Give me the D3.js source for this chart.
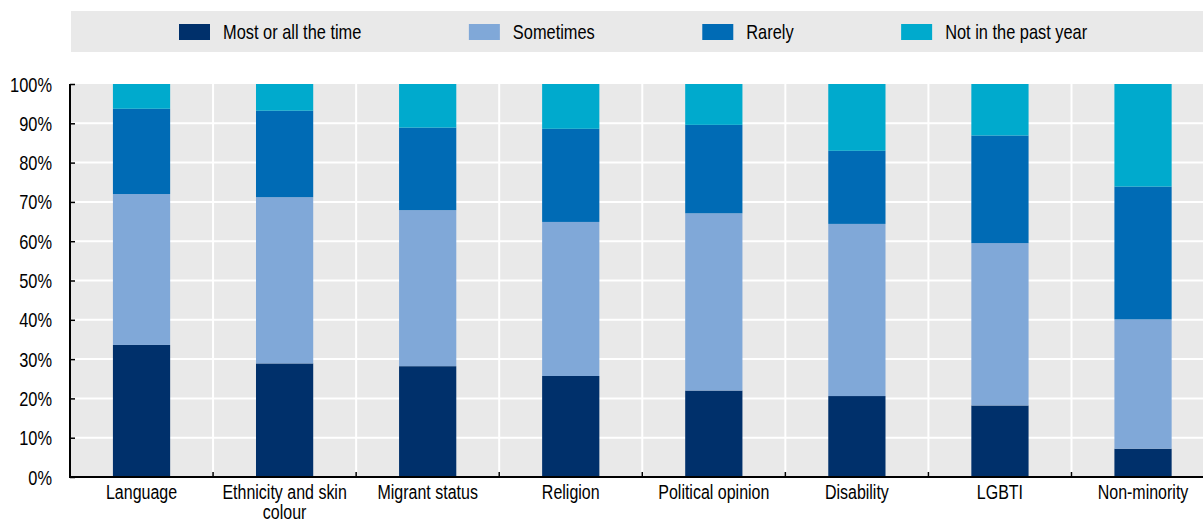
<!DOCTYPE html>
<html>
<head>
<meta charset="utf-8">
<script src="https://cdn.jsdelivr.net/npm/d3@7"></script>
<style>
  html, body { margin: 0; padding: 0; background: #fff; }
  svg { display: block; }
  text { font-family: "Liberation Sans", Arial, sans-serif; fill: #000; }
</style>
</head>
<body>
<svg id="chart" width="1203" height="524"></svg>
<script>
// Groups shown along the horizontal axis
const categories = [
  "Language",
  "Ethnicity and skin colour",
  "Migrant status",
  "Religion",
  "Political opinion",
  "Disability",
  "LGBTI",
  "Non-minority"
];

// Response categories (stack order, bottom to top)
const seriesNames = ["Most or all the time", "Sometimes", "Rarely", "Not in the past year"];

// Share of respondents (%) per group, one array per response
const mostOrAll   = [33.6, 28.9, 28.2, 25.7, 22.0, 20.6, 18.2,  7.2];
const sometimes   = [38.4, 42.3, 39.7, 39.2, 45.1, 43.8, 41.3, 32.9];
const rarely      = [21.7, 22.0, 21.0, 23.7, 22.5, 18.6, 27.4, 33.8];
const notPastYear = [ 6.3,  6.8, 11.1, 11.4, 10.4, 17.0, 13.1, 26.1];

const yTicks = [0, 10, 20, 30, 40, 50, 60, 70, 80, 90, 100];

const colors = ["#00306b", "#80a8d8", "#006bb5", "#00aacd"];

// Condensed lettering: regular face squeezed horizontally
const FONT_SIZE = 20;
const LABEL_SIZE = 19.5;
const SQUEEZE = 0.82;

// Rows for d3.stack
const rows = categories.map((c, i) => ({
  category: c,
  [seriesNames[0]]: mostOrAll[i],
  [seriesNames[1]]: sometimes[i],
  [seriesNames[2]]: rarely[i],
  [seriesNames[3]]: notPastYear[i]
}));

const svg = d3.select("#chart");
const W = 1203;
const plotLeft = 70, plotTop = 84, plotBottom = 477;
const stepW = 143.07;
const plotRight = plotLeft + stepW * categories.length;

const x = d3.scaleBand()
  .domain(categories)
  .range([plotLeft, plotRight])
  .paddingInner(0.6)
  .paddingOuter(0.3);

const y = d3.scaleLinear().domain([0, 100]).range([plotBottom, plotTop]);

const color = d3.scaleOrdinal().domain(seriesNames).range(colors);

// Plot background
svg.append("rect")
  .attr("x", plotLeft).attr("y", plotTop)
  .attr("width", W - plotLeft).attr("height", plotBottom - plotTop)
  .attr("fill", "#e9e9e9");

// Band boundaries between groups
const step = x.step();
const boundaries = d3.range(1, categories.length).map(k => plotLeft + k * step);

// White gridlines
const grid = svg.append("g");
grid.selectAll("line.h")
  .data(yTicks.filter(t => t > 0 && t < 100))
  .join("line")
  .attr("x1", plotLeft).attr("x2", W)
  .attr("y1", d => y(d)).attr("y2", d => y(d))
  .attr("stroke", "#fff").attr("stroke-width", 2);
grid.selectAll("line.v")
  .data(boundaries)
  .join("line")
  .attr("x1", d => d).attr("x2", d => d)
  .attr("y1", plotTop).attr("y2", plotBottom)
  .attr("stroke", "#fff").attr("stroke-width", 2);

// Stacked bars
const stack = d3.stack().keys(seriesNames);
const layers = stack(rows);

svg.append("g")
  .selectAll("g")
  .data(layers)
  .join("g")
  .attr("fill", d => color(d.key))
  .selectAll("rect")
  .data(d => d)
  .join("rect")
  .attr("x", d => x(d.data.category))
  .attr("width", x.bandwidth())
  .attr("y", d => y(d[1]))
  .attr("height", d => y(d[0]) - y(d[1]));

// Y axis
const yAxis = d3.axisLeft(y)
  .tickValues(yTicks)
  .tickSize(-5)
  .tickFormat(d => d + "%");

const gy = svg.append("g")
  .attr("transform", `translate(${plotLeft},0)`)
  .call(yAxis);
gy.select(".domain").attr("stroke", "#000").attr("stroke-width", 2)
  .attr("d", `M0,${plotTop}V${plotBottom}`);
gy.selectAll(".tick line").attr("stroke", "#000").attr("stroke-width", 1.5);
gy.selectAll(".tick text")
  .style("font-size", FONT_SIZE + "px")
  .attr("x", -18 / SQUEEZE)
  .attr("dy", "0.35em")
  .attr("transform", `scale(${SQUEEZE},1)`);

// X axis line and boundary ticks
svg.append("line")
  .attr("x1", plotLeft - 1).attr("x2", W)
  .attr("y1", plotBottom).attr("y2", plotBottom)
  .attr("stroke", "#000").attr("stroke-width", 2);
svg.append("g")
  .selectAll("line")
  .data(boundaries)
  .join("line")
  .attr("x1", d => d).attr("x2", d => d)
  .attr("y1", plotBottom).attr("y2", plotBottom - 5)
  .attr("stroke", "#000").attr("stroke-width", 1.5);

// Category labels (wrapped to the band width)
const xAxis = d3.axisBottom(x).tickSize(0).tickPadding(0);
const gx = svg.append("g")
  .attr("transform", `translate(0,${plotBottom})`)
  .call(xAxis);
gx.select(".domain").remove();
const maxLabel = 134;
const firstLine = 22;
const lineGap = 20.5;
gx.selectAll(".tick text")
  .style("font-size", LABEL_SIZE + "px")
  .attr("transform", `scale(${SQUEEZE},1)`)
  .attr("y", firstLine)
  .attr("dy", 0)
  .each(function () {
    const t = d3.select(this);
    const words = t.text().split(" ");
    t.text(null);
    let line = [];
    let lineNo = 0;
    let tspan = t.append("tspan").attr("x", 0).attr("y", firstLine);
    words.forEach(w => {
      line.push(w);
      tspan.text(line.join(" "));
      if (tspan.node().getComputedTextLength() * SQUEEZE > maxLabel && line.length > 1) {
        line.pop();
        tspan.text(line.join(" "));
        line = [w];
        lineNo += 1;
        tspan = t.append("tspan").attr("x", 0).attr("y", firstLine + lineNo * lineGap).text(w);
      }
    });
  });

// Legend
svg.append("rect")
  .attr("x", 71).attr("y", 11)
  .attr("width", W - 71).attr("height", 41)
  .attr("fill", "#e9e9e9");

const legend = svg.append("g");
let lx = 179;
seriesNames.forEach(name => {
  const g = legend.append("g").attr("transform", `translate(${lx},0)`);
  g.append("rect")
    .attr("x", 0).attr("y", 24)
    .attr("width", 31).attr("height", 16)
    .attr("fill", color(name));
  const txt = g.append("text")
    .attr("transform", `translate(44,39) scale(${SQUEEZE},1)`)
    .style("font-size", FONT_SIZE + "px")
    .text(name);
  lx += 44 + txt.node().getComputedTextLength() * SQUEEZE + 107.5;
});
</script>
</body>
</html>
